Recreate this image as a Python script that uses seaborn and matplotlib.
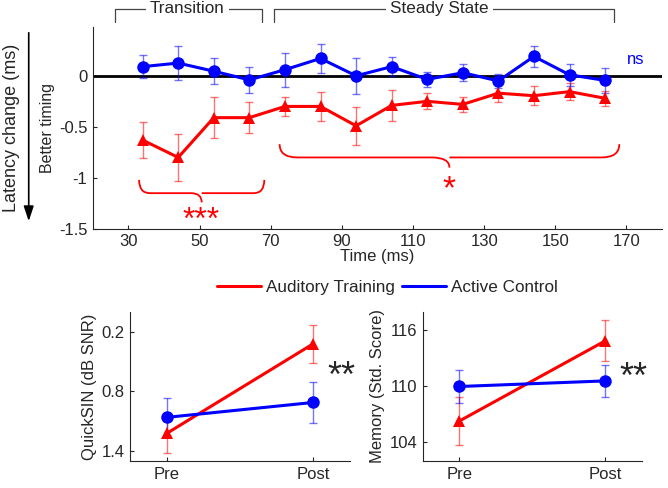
import numpy as np
import pandas as pd
import matplotlib
matplotlib.use("Agg")
import matplotlib.pyplot as plt
from matplotlib.path import Path
from matplotlib.patches import PathPatch, FancyArrowPatch
from matplotlib.lines import Line2D
import seaborn as sns

# ---- data ----
time_ms = [34, 44, 54, 64, 74, 84, 94, 104, 114, 124, 134, 144, 154, 164]
training_change = [-0.63, -0.80, -0.41, -0.41, -0.30, -0.30, -0.49, -0.29, -0.25, -0.28, -0.17, -0.195, -0.155, -0.22]
training_se = [0.175, 0.23, 0.20, 0.15, 0.095, 0.145, 0.185, 0.15, 0.08, 0.077, 0.087, 0.093, 0.083, 0.072]
control_change = [0.09, 0.125, 0.045, -0.04, 0.06, 0.17, 0.0, 0.09, -0.035, 0.03, -0.05, 0.19, 0.01, -0.045]
control_se = [0.11, 0.165, 0.13, 0.13, 0.165, 0.14, 0.175, 0.09, 0.075, 0.085, 0.07, 0.105, 0.105, 0.12]

sessions = ["Pre", "Post"]
quicksin_training = [1.22, 0.32]
quicksin_training_se = [0.20, 0.19]
quicksin_control = [1.06, 0.91]
quicksin_control_se = [0.19, 0.21]

memory_training = [106.3, 114.9]
memory_training_se = [2.6, 2.2]
memory_control = [110.0, 110.6]
memory_control_se = [1.75, 1.7]

groups = ["Auditory Training", "Active Control"]
RED = "#ff0000"
BLUE = "#0000ff"
palette = {"Auditory Training": RED, "Active Control": BLUE}
markers = {"Auditory Training": "^", "Active Control": "o"}

sns.set_style("ticks")
plt.rcParams["font.family"] = ["Liberation Sans", "DejaVu Sans"]
plt.rcParams["axes.unicode_minus"] = False
plt.rcParams["xtick.direction"] = "in"
plt.rcParams["ytick.direction"] = "in"
plt.rcParams["font.size"] = 12
plt.rcParams["axes.labelsize"] = 12
plt.rcParams["xtick.labelsize"] = 12
plt.rcParams["ytick.labelsize"] = 12

fig = plt.figure(figsize=(6.68, 4.88), dpi=100)
ax = fig.add_axes([0.139, 0.531, 0.852, 0.414])
ax_q = fig.add_axes([0.195, 0.055, 0.329, 0.306])
ax_m = fig.add_axes([0.633, 0.055, 0.328, 0.306])

top = pd.DataFrame({
    "time": time_ms * 2,
    "change": training_change + control_change,
    "se": training_se + control_se,
    "group": [groups[0]] * len(time_ms) + [groups[1]] * len(time_ms),
})

ax.axhline(0, color="black", lw=2, zorder=1)
sns.lineplot(data=top, x="time", y="change", hue="group", style="group",
             palette=palette, markers=markers, dashes=False, markersize=9,
             markeredgewidth=0, linewidth=2.2, legend=False, ax=ax, zorder=3)
for g in groups:
    d = top[top["group"] == g]
    ax.errorbar(d["time"], d["change"], yerr=d["se"], fmt="none",
                ecolor=palette[g], alpha=0.55, elinewidth=1, capsize=3, zorder=2)

ax.set_xlim(20, 180)
ax.set_ylim(-1.5, 0.48)
ax.set_xticks([30, 50, 70, 90, 110, 130, 150, 170])
ax.set_yticks([-1.5, -1, -0.5, 0])
ax.set_yticklabels(["-1.5", "-1", "-0.5", "0"])
ax.set_xlabel("Time (ms)", labelpad=0)
ax.set_ylabel("Better timing", labelpad=3, fontsize=11.5)
sns.despine(ax=ax)
ax.tick_params(length=3, pad=4)

# bracket annotations above the plot
def top_bracket(x0, x1, label, xc):
    ax.plot([x0, x0, x1, x1], [0.53, 0.65, 0.65, 0.53], color="#444444", lw=0.9,
            clip_on=False)
    ax.text(xc, 0.655, label, ha="center", va="center", fontsize=12.3,
            bbox=dict(facecolor="white", edgecolor="none", pad=3), clip_on=False)

top_bracket(26.2, 67.6, "Transition", 46.5)
top_bracket(71, 166.5, "Steady State", 117.5)

# curly braces
def brace(x0, x1, y_end, y_line, y_tip, dx):
    xc = (x0 + x1) / 2
    verts = [(x0, y_end), (x0, y_line), (x0 + dx, y_line),
             (xc - dx, y_line), (xc, y_line), (xc, y_tip),
             (xc, y_line), (xc + dx, y_line),
             (x1 - dx, y_line), (x1, y_line), (x1, y_end)]
    codes = [Path.MOVETO, Path.CURVE3, Path.CURVE3,
             Path.LINETO, Path.CURVE3, Path.CURVE3,
             Path.MOVETO, Path.CURVE3, Path.LINETO,
             Path.CURVE3, Path.CURVE3]
    ax.add_patch(PathPatch(Path(verts, codes), facecolor="none", edgecolor=RED,
                           lw=1.3, clip_on=False))

brace(33, 68.2, -1.02, -1.15, -1.24, 3)
ax.text(50.5, -1.42, "***", color=RED, ha="center", va="center", fontsize=23)
brace(72.5, 168, -0.67, -0.80, -0.90, 5)
ax.text(120, -1.12, "*", color=RED, ha="center", va="center", fontsize=24)
ax.text(172.5, 0.16, "ns", color=BLUE, ha="center", va="center", fontsize=12)

# outer label with arrow
fig.text(0.017, 0.737, "Latency change (ms)", rotation=90, ha="center", va="center",
         fontsize=13)
arrow = FancyArrowPatch((0.043, 1 - 30 / 488), (0.043, 1 - 224 / 488),
                        transform=fig.transFigure,
                        arrowstyle="-|>,head_width=3,head_length=9",
                        color="black", lw=1.2)
fig.add_artist(arrow)

# bottom panels
def small_panel(axp, tr, tr_se, co, co_se, ylabel, ylim, yticks, yticklabels, star_y):
    d = pd.DataFrame({
        "x": [1, 2, 1, 2],
        "val": tr + co,
        "se": tr_se + co_se,
        "group": [groups[0]] * 2 + [groups[1]] * 2,
    })
    sns.lineplot(data=d, x="x", y="val", hue="group", style="group",
                 palette=palette, markers=markers, dashes=False, markersize=9,
                 markeredgewidth=0, linewidth=2.2, legend=False, ax=axp, zorder=3)
    for g in groups:
        dd = d[d["group"] == g]
        axp.errorbar(dd["x"], dd["val"], yerr=dd["se"], fmt="none",
                     ecolor=palette[g], alpha=0.55, elinewidth=1, capsize=3, zorder=2)
    axp.set_xlim(0.75, 2.25)
    axp.set_ylim(*ylim)
    axp.set_xticks([1, 2])
    axp.set_xticklabels(sessions)
    axp.set_yticks(yticks)
    axp.set_yticklabels(yticklabels)
    axp.set_xlabel("")
    axp.set_ylabel(ylabel, labelpad=3)
    axp.tick_params(length=3, pad=4)
    sns.despine(ax=axp)
    axp.text(2.19, star_y, "**", ha="center", va="center", fontsize=26)

small_panel(ax_q, quicksin_training, quicksin_training_se, quicksin_control,
            quicksin_control_se, "QuickSIN (dB SNR)", (1.5, 0.0),
            [0.2, 0.8, 1.4], ["0.2", "0.8", "1.4"], 0.66)
small_panel(ax_m, memory_training, memory_training_se, memory_control,
            memory_control_se, "Memory (Std. Score)", (102, 118),
            [104, 110, 116], ["104", "110", "116"], 110.9)

handles = [Line2D([], [], color=palette[g], lw=2.2) for g in groups]
fig.legend(handles, groups, loc="center", bbox_to_anchor=(0.58, 0.411), ncol=2,
           frameon=False, handlelength=2.6, handletextpad=0.3, columnspacing=0.4,
           fontsize=12.3)

fig.savefig("out.png", dpi=100)
